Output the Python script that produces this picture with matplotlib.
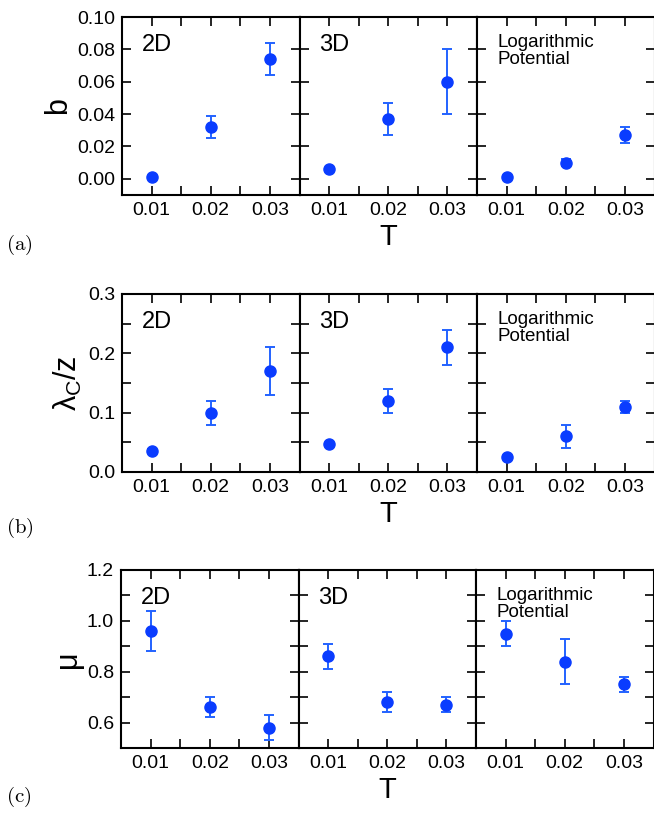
import matplotlib.pyplot as plt
from matplotlib.ticker import MultipleLocator, FormatStrFormatter

plt.rcParams['font.family'] = ['Liberation Sans Narrow', 'Liberation Sans', 'DejaVu Sans']
plt.rcParams['mathtext.fontset'] = 'custom'
plt.rcParams['mathtext.rm'] = 'Liberation Sans'
plt.rcParams['mathtext.it'] = 'Liberation Sans'

T = [0.01, 0.02, 0.03]
panel_names = ['2D', '3D', 'Logarithmic\nPotential']

# row (a): b
b_val = [[0.001, 0.032, 0.074], [0.006, 0.037, 0.060], [0.001, 0.010, 0.027]]
b_err = [[0.0, 0.007, 0.010], [0.0, 0.010, 0.020], [0.0, 0.002, 0.005]]
# row (b): lambda_C / z
lam_val = [[0.035, 0.100, 0.170], [0.047, 0.120, 0.210], [0.026, 0.060, 0.110]]
lam_err = [[0.003, 0.020, 0.040], [0.0, 0.020, 0.030], [0.0, 0.020, 0.010]]
# row (c): mu
mu_val = [[0.96, 0.66, 0.58], [0.86, 0.68, 0.67], [0.95, 0.84, 0.75]]
mu_err = [[0.08, 0.04, 0.05], [0.05, 0.04, 0.03], [0.05, 0.09, 0.03]]

rows = [
    dict(val=b_val, err=b_err, ylim=(-0.01, 0.10), major=0.02, minor=0.02,
         fmt='%.2f', ylabel='b', tag='(a)', tag_y=245, top=17, bottom=195, left=122),
    dict(val=lam_val, err=lam_err, ylim=(0.0, 0.3), major=0.1, minor=0.05,
         fmt='%.1f', ylabel=r'$\lambda_{\mathrm{C}}/\mathrm{z}$', tag='(b)', tag_y=528,
         top=294, bottom=472, left=122),
    dict(val=mu_val, err=mu_err, ylim=(0.5, 1.2), major=0.2, minor=0.1,
         fmt='%.1f', ylabel='μ', tag='(c)', tag_y=797, top=570, bottom=748, left=121),
]

W, H = 654, 819
fig = plt.figure(figsize=(W / 100, H / 100), dpi=100)
pw = 177.5

for r in rows:
    for j in range(3):
        x0 = r['left'] + j * pw
        ax = fig.add_axes([x0 / W, 1 - r['bottom'] / H, pw / W, (r['bottom'] - r['top']) / H])
        ax.errorbar(T, r['val'][j], yerr=r['err'][j], fmt='none', ecolor='#2262ff',
                    elinewidth=1.4, capsize=3.3, capthick=1.4, zorder=2)
        ax.plot(T, r['val'][j], 'o', color='#0a3cff', markersize=8, zorder=3)
        ax.set_xlim(0.005, 0.035)
        ax.set_ylim(*r['ylim'])
        ax.xaxis.set_major_locator(MultipleLocator(0.01))
        ax.xaxis.set_minor_locator(MultipleLocator(0.005))
        ax.xaxis.set_major_formatter(FormatStrFormatter('%.2f'))
        ax.yaxis.set_major_locator(MultipleLocator(r['major']))
        ax.yaxis.set_minor_locator(MultipleLocator(r['minor']))
        ax.yaxis.set_major_formatter(FormatStrFormatter(r['fmt']))
        ax.tick_params(which='both', direction='in', top=True, right=True,
                       length=6.2, width=1.2, labelsize=14, pad=5)
        for s in ax.spines.values():
            s.set_linewidth(1.5)
        if j > 0:
            ax.tick_params(labelleft=False)
        else:
            ax.set_ylabel(r['ylabel'], fontsize=22, labelpad=3, family='Liberation Sans')
        if j == 2:
            ax.text(0.115, 0.905, panel_names[j], transform=ax.transAxes, fontsize=13.5,
                    va='top', ha='left', linespacing=1.0, family='Liberation Sans')
        else:
            ax.text(0.11, 0.905, panel_names[j], transform=ax.transAxes, fontsize=17,
                    va='top', ha='left', family='Liberation Sans')
        if j == 1:
            ax.set_xlabel('T', fontsize=21, labelpad=3, family='Liberation Sans')
    fig.text(6 / W, 1 - r['tag_y'] / H, r'$\mathrm{' + r['tag'] + '}$', math_fontfamily='cm',
             fontsize=15, va='center', ha='left')

fig.savefig('out.png', dpi=100)
